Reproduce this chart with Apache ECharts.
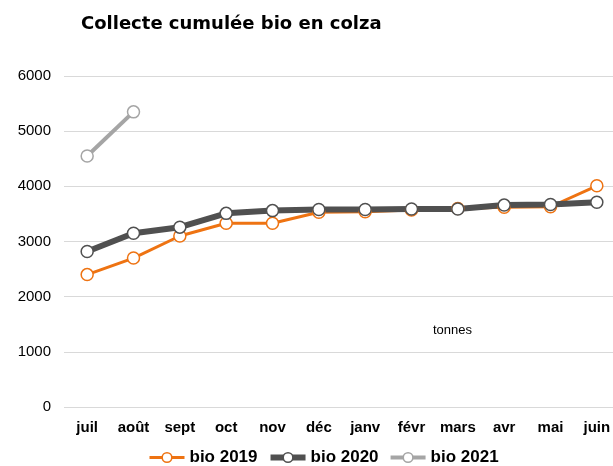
<!DOCTYPE html>
<html>
<head>
<meta charset="utf-8">
<script src="https://cdn.jsdelivr.net/npm/echarts@6/dist/echarts.min.js"></script>
<style>
  html, body { margin: 0; padding: 0; background: #fff; }
  #chart { width: 613px; height: 466px; }
</style>
</head>
<body>
<div id="chart"></div>
<script>
var months = ['juil', 'août', 'sept', 'oct', 'nov', 'déc', 'janv', 'févr', 'mars', 'avr', 'mai', 'juin'];
var bio2019 = [2400, 2700, 3100, 3330, 3330, 3530, 3540, 3570, 3600, 3620, 3630, 4010];
var bio2020 = [2820, 3150, 3260, 3510, 3560, 3580, 3580, 3590, 3590, 3660, 3670, 3710];
var bio2021 = [4550, 5350, null, null, null, null, null, null, null, null, null, null];

var colors = { 'bio 2019': '#ee7312', 'bio 2020': '#505050', 'bio 2021': '#a5a5a5' };
var widths = { 'bio 2019': 3, 'bio 2020': 6, 'bio 2021': 4 };

var chart = echarts.init(document.getElementById('chart'));

function makeSeries(name, data) {
	return {
		name: name,
		type: 'line',
		data: data,
		symbol: 'circle',
		symbolSize: 12,
		showAllSymbol: true,
		lineStyle: { color: colors[name], width: widths[name] },
		itemStyle: { color: '#fff', borderColor: colors[name], borderWidth: 1.5 },
		emphasis: { disabled: true }
	};
}

function legendItem(name) {
	return {
		name: name,
		itemStyle: { color: '#fff', borderColor: colors[name], borderWidth: 1.5 },
		lineStyle: { color: colors[name], width: widths[name] }
	};
}

var option = {
	animation: false,
	title: {
		text: 'Collecte cumulée bio en colza',
		left: 76,
		top: 10,
		textStyle: { fontFamily: 'DejaVu Sans', fontSize: 18, fontWeight: 'bold', color: '#000' }
	},
	grid: { left: 64, width: 556, top: 76, bottom: 59, outerBoundsMode: 'none', containLabel: false },
	legend: {
		top: 444,
		left: 143,
		itemWidth: 35,
		itemHeight: 12,
		itemGap: 10,
		textStyle: { fontFamily: 'Liberation Sans', fontSize: 17, fontWeight: 'bold', color: '#000' },
		data: [legendItem('bio 2019'), legendItem('bio 2020'), legendItem('bio 2021')]
	},
	xAxis: {
		type: 'category',
		data: months,
		axisLine: { show: false },
		axisTick: { show: false },
		axisLabel: { fontFamily: 'Liberation Sans', fontSize: 15, fontWeight: 'bold', color: '#000', margin: 13, interval: 0 }
	},
	yAxis: {
		type: 'value',
		min: 0,
		max: 6000,
		interval: 1000,
		axisLabel: {
			fontFamily: 'Liberation Sans', fontSize: 15, color: '#000', margin: 13,
			formatter: function (v) { return String(v); }
		},
		splitLine: { lineStyle: { color: '#d9d9d9', width: 1 } }
	},
	graphic: [{
		type: 'text',
		left: 433,
		top: 324,
		style: { text: 'tonnes', fontFamily: 'Liberation Sans', fontSize: 13, fill: '#000' }
	}],
	series: [
		makeSeries('bio 2019', bio2019),
		makeSeries('bio 2020', bio2020),
		makeSeries('bio 2021', bio2021)
	]
};
chart.setOption(option);
</script>
</body>
</html>
